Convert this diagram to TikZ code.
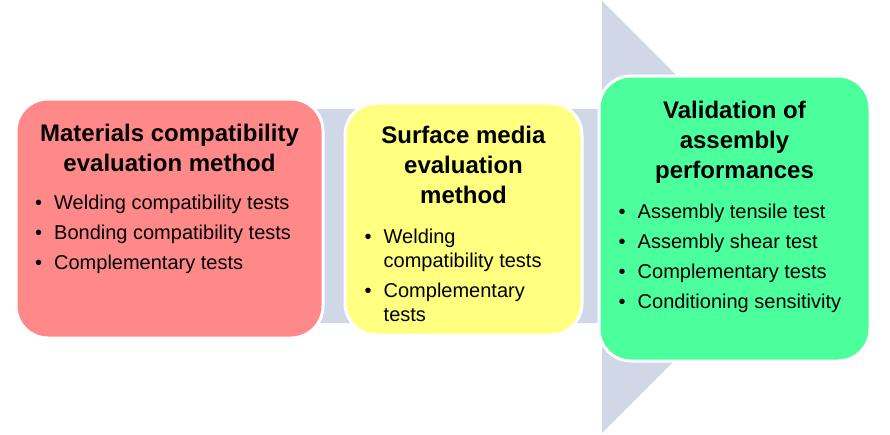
\documentclass[tikz,border=0pt]{standalone}
\usepackage{fontspec}
\setmainfont{Liberation Sans}
\usetikzlibrary{positioning}
\definecolor{StageRed}{HTML}{FF8989}
\definecolor{StageYellow}{HTML}{FFFF80}
\definecolor{StageGreen}{HTML}{4BFF9D}
\definecolor{FlowGray}{HTML}{D0D7E6}
% one bullet line, wrapped text keeps its indent
\newcommand{\bulletitem}[1]{\par\hangindent=19pt\hangafter=1\noindent\makebox[19pt][l]{\textbullet}#1}
\newcommand{\bulletlist}[2]{\parbox[t]{#1}{\raggedright\hyphenpenalty=10000\setlength{\parskip}{6pt}#2\par}}
\tikzset{
    stagebox/.style={
        draw=white,
        line width=3pt,
        fill=#1,
        rounded corners=32pt,
        inner sep=0pt,
        anchor=north west
    },
    stagebox/.default=StageRed,
    stagetitle/.style={
        font=\fontsize{24}{30}\selectfont\bfseries,
        align=center,
        inner sep=0pt
    },
    stagelist/.style={
        font=\fontsize{20}{24}\selectfont,
        inner sep=0pt
    }
}
\begin{document}
\begin{tikzpicture}[x=1pt, y=-1pt]
        \useasboundingbox (0,0) rectangle (890,434);

        % Background flow arrow
        \fill[FlowGray] (30,109) -- (602,109) -- (602,1) -- (818,217) -- (602,433) -- (602,323) -- (30,323) -- cycle;

        % Stage boxes
        \node[stagebox=StageRed, minimum width=307pt, minimum height=239pt] (materials) at (14.5,97.5) {};
        \node[stagebox=StageYellow, minimum width=237pt, minimum height=232pt] (surface) at (343.5,101.5) {};
        \node[stagebox=StageGreen, minimum width=271pt, minimum height=285pt] (validation) at (597.5,74.5) {};

        % Titles
        \node[stagetitle, below=26pt of materials.north] (materialsTitle) {Materials compatibility\\evaluation method};
        \node[stagetitle, below=24pt of surface.north] (surfaceTitle) {Surface media\\evaluation\\method};
        \node[stagetitle, below=26pt of validation.north] (validationTitle) {Validation of\\assembly\\performances};

        % Bullet lists
        \node[stagelist, below right=97pt and 20.5pt of materials.north west] (materialsList) {\bulletlist{280pt}{%
            \bulletitem{Welding compatibility tests}
            \bulletitem{Bonding compatibility tests}
            \bulletitem{Complementary tests}}};
        \node[stagelist, below right=127pt and 21pt of surface.north west] (surfaceList) {\bulletlist{190pt}{%
            \bulletitem{Welding compatibility tests}
            \bulletitem{Complementary tests}}};
        \node[stagelist, below right=129pt and 21pt of validation.north west] (validationList) {\bulletlist{245pt}{%
            \bulletitem{Assembly tensile test}
            \bulletitem{Assembly shear test}
            \bulletitem{Complementary tests}
            \bulletitem{Conditioning sensitivity}}};
    \end{tikzpicture}
\end{document}
